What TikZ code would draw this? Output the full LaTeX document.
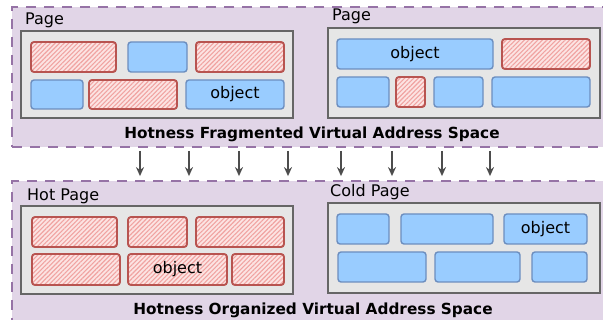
\documentclass[tikz,border=0pt]{standalone}
\usepackage{fontspec}
\setmainfont{DejaVu Sans}
\usetikzlibrary{patterns.meta,fit,arrows.meta}
\definecolor{regionfill}{HTML}{E1D5E7}
\definecolor{regionline}{HTML}{9673A6}
\definecolor{pagefill}{HTML}{E6E6E6}
\definecolor{pageline}{HTML}{666666}
\definecolor{bluefill}{HTML}{99CCFF}
\definecolor{blueline}{HTML}{6C8EBF}
\definecolor{redfill}{HTML}{FCE4E3}
\definecolor{redhatch}{HTML}{F0A3A1}
\definecolor{redline}{HTML}{B85450}
\definecolor{arrowcol}{HTML}{4D4D4D}
\tikzset{
  region/.style={fill=regionfill, draw=regionline, line width=1.8pt, dash pattern=on 10pt off 8pt, inner sep=0pt},
  pagebox/.style={fill=pagefill, draw=pageline, line width=1.6pt, inner sep=0pt},
  objtext/.style={font=\fontsize{16}{19}\selectfont},
  blueobj/.style={fill=bluefill, draw=blueline, line width=1.4pt, rounded corners=3pt, inner sep=0pt},
  redobj/.style={preaction={fill=redfill}, pattern={Lines[angle=45, distance=3.2pt, line width=1.1pt]}, pattern color=redhatch, draw=redline, line width=1.9pt, rounded corners=3pt, inner sep=0pt},
  pagelabel/.style={anchor=base west, inner sep=0pt, font=\fontsize{16}{19}\selectfont},
  spacetitle/.style={anchor=base, inner sep=0pt, font=\fontsize{15.3}{18}\selectfont\bfseries},
  moveto/.style={draw=arrowcol, line width=1.6pt, -{Stealth[length=9pt,width=8pt]}},
}
\begin{document}
\begin{tikzpicture}[x=1pt, y=-1pt]
\useasboundingbox (0,0) rectangle (603,320);
\clip (0,0) rectangle (603,320);

% address spaces
\node[region, fit={(12,7) (620,147)}] (upper) {};
\node[region, fit={(12,181) (620,340)}] (lower) {};

% fragmented space: two pages
\node[pagebox, fit={(21,31) (293,118)}] (pgA) {};
\node[pagebox, fit={(328,28) (600,118)}] (pgB) {};
\node[pagelabel] (pgAlabel) at (25,25) {Page};
\node[pagelabel] (pgBlabel) at (332,21) {Page};

\node[redobj,  fit={(31,42) (116,72)}]  (a1) {};
\node[blueobj, fit={(128,42) (187,72)}] (a2) {};
\node[redobj,  fit={(196,42) (284,72)}] (a3) {};
\node[blueobj, fit={(31,80) (83,109)}]  (a4) {};
\node[redobj,  fit={(89,80) (177,109)}] (a5) {};
\node[blueobj, fit={(186,80) (284,109)}] (a6) {};
\node[objtext] (a6text) at (a6.center) {object};

\node[blueobj, fit={(337,39) (493,69)}] (b1) {};
\node[objtext] (b1text) at (b1.center) {object};
\node[redobj,  fit={(502,39) (590,69)}] (b2) {};
\node[blueobj, fit={(337,77) (389,107)}] (b3) {};
\node[redobj,  fit={(396,77) (425,107)}] (b4) {};
\node[blueobj, fit={(434,77) (483,107)}] (b5) {};
\node[blueobj, fit={(492,77) (590,107)}] (b6) {};

\node[spacetitle] (upperTitle) at (312,139) {Hotness Fragmented Virtual Address Space};

% reorganisation arrows
\foreach \ax in {140,189,239,288,341,392,442,490}
  \draw[moveto, shorten <=3pt, shorten >=4pt] (upper.south -| \ax,0) -- (lower.north -| \ax,0);

% organized space: hot page and cold page
\node[pagebox, fit={(21,206) (293,294)}] (hot) {};
\node[pagebox, fit={(328,203) (600,293)}] (cold) {};
\node[pagelabel] (hotlabel) at (27,201) {Hot Page};
\node[pagelabel] (coldlabel) at (330,197) {Cold Page};

\node[redobj, fit={(32,217) (117,247)}]  (h1) {};
\node[redobj, fit={(128,217) (187,247)}] (h2) {};
\node[redobj, fit={(196,217) (284,247)}] (h3) {};
\node[redobj, fit={(32,254) (120,285)}]  (h4) {};
\node[redobj, fit={(128,254) (227,285)}] (h5) {};
\node[objtext] (h5text) at (h5.center) {object};
\node[redobj, fit={(232,254) (284,285)}] (h6) {};

\node[blueobj, fit={(337,214) (389,244)}] (c1) {};
\node[blueobj, fit={(401,214) (493,244)}] (c2) {};
\node[blueobj, fit={(504,214) (587,244)}] (c3) {};
\node[objtext] (c3text) at (c3.center) {object};
\node[blueobj, fit={(338,252) (426,282)}] (c4) {};
\node[blueobj, fit={(435,252) (520,282)}] (c5) {};
\node[blueobj, fit={(532,252) (587,282)}] (c6) {};

\node[spacetitle] (lowerTitle) at (313,315) {Hotness Organized Virtual Address Space};
\end{tikzpicture}
\end{document}
